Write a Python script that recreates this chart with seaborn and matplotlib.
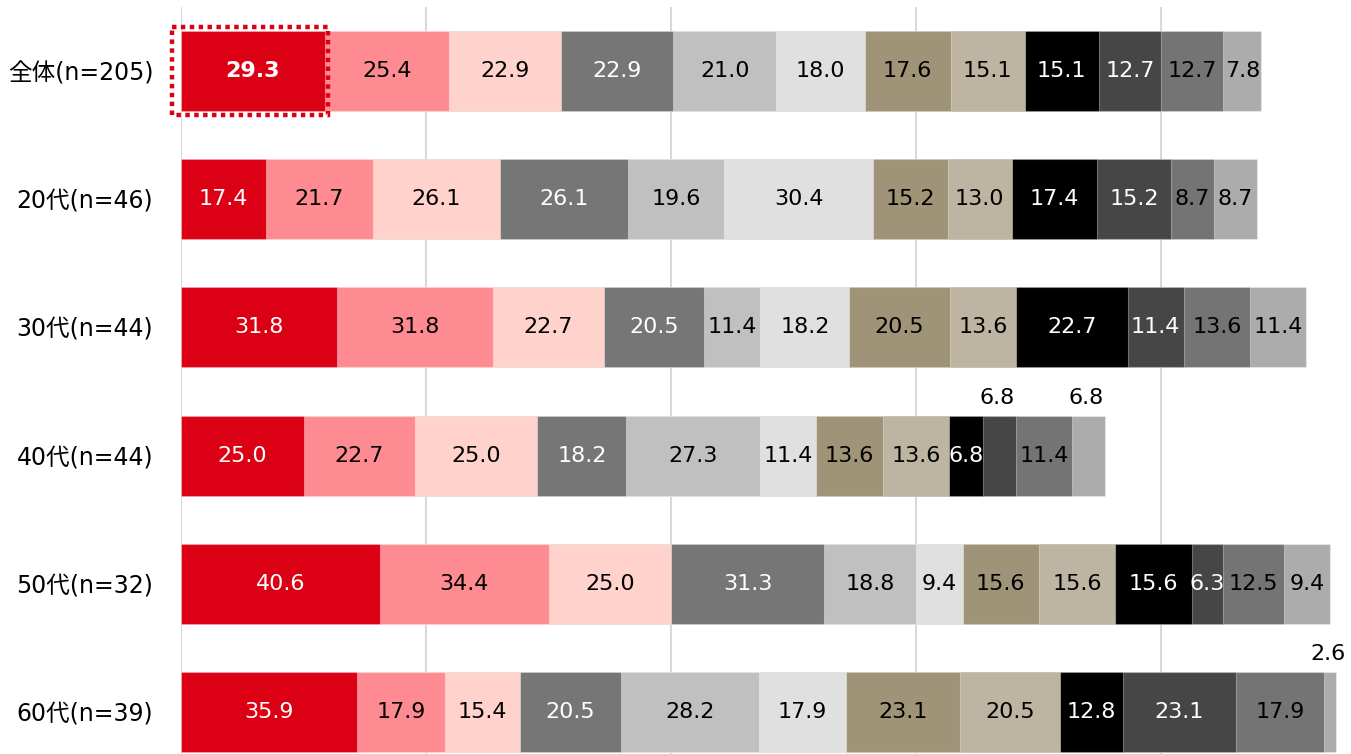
import numpy as np
import pandas as pd
import seaborn as sns
import matplotlib.pyplot as plt
from matplotlib.patches import Rectangle

groups = ["全体(n=205)", "20代(n=46)", "30代(n=44)", "40代(n=44)", "50代(n=32)", "60代(n=39)"]

total = [29.3, 25.4, 22.9, 22.9, 21.0, 18.0, 17.6, 15.1, 15.1, 12.7, 12.7, 7.8]
age20 = [17.4, 21.7, 26.1, 26.1, 19.6, 30.4, 15.2, 13.0, 17.4, 15.2, 8.7, 8.7]
age30 = [31.8, 31.8, 22.7, 20.5, 11.4, 18.2, 20.5, 13.6, 22.7, 11.4, 13.6, 11.4]
age40 = [25.0, 22.7, 25.0, 18.2, 27.3, 11.4, 13.6, 13.6, 6.8, 6.8, 11.4, 6.8]
age50 = [40.6, 34.4, 25.0, 31.3, 18.8, 9.4, 15.6, 15.6, 15.6, 6.3, 12.5, 9.4]
age60 = [35.9, 17.9, 15.4, 20.5, 28.2, 17.9, 23.1, 20.5, 12.8, 23.1, 17.9, 2.6]

colors = ["#dc0014", "#ff8b92", "#ffd2cc", "#767676", "#c0c0c0", "#e0e0e0",
          "#9f9378", "#bdb5a2", "#000000", "#464646", "#747474", "#acacac"]
white_text = [0, 3, 8, 9]
# (row, segment) whose label sits above the bar
outside = [(3, 9), (3, 11), (5, 11)]

sns.set_theme(style="white")
plt.rcParams["font.family"] = ["DejaVu Sans", "Noto Sans CJK JP"]

values = np.array([total, age20, age30, age40, age50, age60])
cum = values.cumsum(axis=1)
n_seg = values.shape[1]

fig = plt.figure(figsize=(13.51, 7.54), dpi=100)
ax = fig.add_axes([181 / 1351, 0, 1 - 181 / 1351, 1 - 7 / 754])

bar_h = 0.624
# stack by drawing cumulative totals, longest first
for k in range(n_seg - 1, -1, -1):
    df = pd.DataFrame({"group": groups, "value": cum[:, k]})
    sns.barplot(data=df, x="value", y="group", order=groups, orient="h",
                color=colors[k], saturation=1, width=bar_h, errorbar=None,
                edgecolor=(1, 1, 1, 0.35), linewidth=0.8, ax=ax)

for i in range(len(groups)):
    for k in range(n_seg):
        v = values[i, k]
        xc = cum[i, k] - v / 2
        if (i, k) in outside:
            ax.text(xc - 0.5, i - 0.45, f"{v:.1f}", ha="center", va="center",
                    fontsize=16, color="black")
            continue
        bold = i == 0 and k == 0
        ax.text(xc, i, f"{v:.1f}", ha="center", va="center", fontsize=16,
                color="white" if k in white_text else "black",
                fontweight="bold" if bold else "normal")

# dotted highlight around the first segment of the total row
ax.add_patch(Rectangle((-1.8, -0.343), values[0, 0] + 2.5, 0.686, fill=False,
                       edgecolor="#dc0014", linewidth=3.2,
                       linestyle=(0, (1.0, 1.0)), clip_on=False, zorder=10))

ax.set_xticks([0, 50, 100, 150, 200, 250])
ax.set_xticklabels([])
ax.set_xlim(0, (1351 - 181) / 4.9)
ax.set_ylim(5 + 42 / 128.2, -0.5)
ax.xaxis.grid(True, color="#d9d9d9", linewidth=1.5)
ax.set_axisbelow(True)
ax.tick_params(axis="y", length=0, pad=20, labelsize=17, labelcolor="black")
ax.tick_params(axis="x", length=0)
ax.set_xlabel("")
ax.set_ylabel("")
sns.despine(ax=ax, left=True, bottom=True)

fig.savefig("out.png", dpi=100)
